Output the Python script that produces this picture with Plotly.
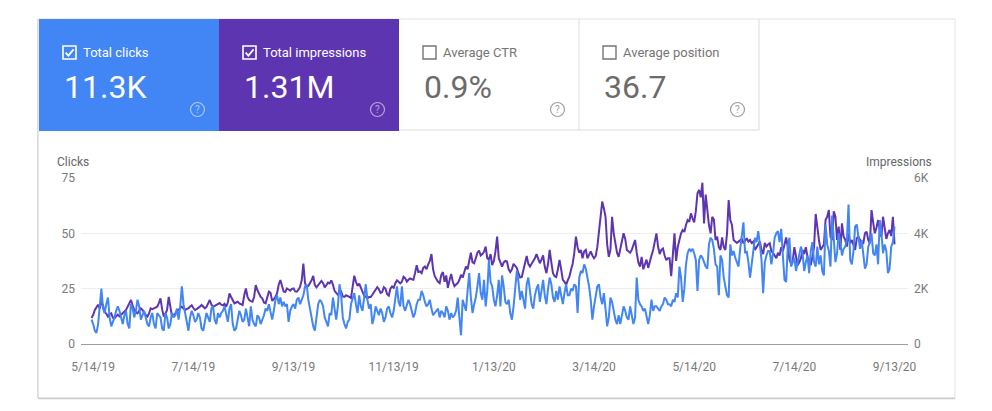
import plotly.graph_objects as go
import pandas as pd

# ---------------- data (daily) ----------------
START_DATE = "2019-05-13"

clicks_p01 = [11, 9, 6, 5, 9, 18, 25, 16, 14, 18, 21, 12, 8, 10, 12, 15, 17]
clicks_p02 = [15, 12, 9, 13, 15, 9, 7, 18, 16, 12, 15, 20, 17, 11, 13, 15, 12, 9, 8, 12,
              14, 9, 7, 14, 13, 12, 7, 6, 14, 12]
clicks_p03 = [7, 9, 14, 12, 13, 16, 11, 17, 26, 18, 14, 10, 6, 12, 15, 13, 10, 11, 14, 12,
              7, 6, 10, 14, 12, 10, 16, 17, 11, 9, 14]
clicks_p04 = [12, 14, 15, 17, 13, 10, 16, 18, 9, 6, 7, 12, 15, 13, 10, 11, 16, 12, 8, 17,
              11, 9, 8, 13, 12, 9, 11, 13, 16, 15, 18]
clicks_p05 = [14, 11, 15, 20, 22, 18, 21, 17, 19, 17, 18, 10, 15, 17, 18, 16, 20, 21, 18, 20,
              22, 26, 27, 20, 16, 13, 8, 6, 12, 18]
clicks_p06 = [20, 19, 17, 12, 10, 8, 14, 13, 21, 15, 11, 17, 27, 22, 12, 9, 7, 10, 11, 18,
              21, 23, 18, 14, 22, 17, 15, 22, 27, 20, 16]
clicks_p07 = [18, 9, 12, 17, 15, 13, 16, 14, 10, 12, 16, 17, 14, 12, 15, 21, 26, 19, 17, 26,
              17, 15, 18, 20, 18, 15, 12, 14, 18, 20]
clicks_p08 = [20, 24, 22, 19, 17, 18, 20, 16, 13, 14, 15, 16, 12, 15, 14, 12, 17, 15, 11, 14,
              12, 13, 15, 21, 12, 4, 20, 17, 15, 24, 32]
clicks_p09 = [21, 14, 18, 21, 26, 32, 23, 20, 29, 17, 24, 38, 28, 26, 20, 17, 22, 29, 17, 31,
              26, 19, 18, 20, 14, 11, 17, 25, 33, 28, 20]
clicks_p10 = [24, 20, 16, 27, 30, 24, 18, 16, 22, 25, 27, 19, 24, 29, 22, 18, 25, 30, 27, 21,
              19, 24, 20, 26, 22, 18, 23, 27, 22]
clicks_p11 = [22, 25, 24, 27, 26, 14, 30, 33, 32, 36, 34, 30, 26, 20, 11, 17, 22, 26, 27, 21,
              18, 23, 16, 8, 12, 21, 19, 14, 11, 9, 13]
clicks_p12 = [9, 14, 17, 15, 12, 11, 17, 13, 9, 12, 30, 20, 18, 17, 15, 16, 13, 9, 13, 20,
              15, 17, 17, 16, 15, 17, 18, 21, 20, 18]
clicks_p13 = [18, 17, 20, 19, 23, 21, 35, 30, 19, 25, 36, 41, 43, 42, 43, 41, 38, 24, 38, 40,
              39, 37, 35, 34, 45, 48, 47, 43, 36, 35, 22]
clicks_p14 = [40, 38, 30, 26, 22, 21, 45, 40, 42, 39, 37, 35, 43, 50, 55, 41, 42, 37, 30, 36,
              42, 48, 46, 51, 45, 38, 23, 37, 40, 42]
clicks_p15 = [42, 36, 41, 48, 50, 51, 46, 52, 40, 29, 28, 44, 48, 35, 37, 39, 33, 37, 40, 44,
              41, 33, 37, 40, 32, 42, 46, 37, 35, 44, 36]
clicks_p16 = [40, 33, 31, 54, 45, 42, 35, 58, 48, 37, 41, 50, 46, 40, 43, 44, 47, 63, 38, 36,
              42, 53, 54, 47, 43, 47, 40, 34, 36, 44, 46]
clicks_p17 = [50, 41, 40, 45, 36, 56, 50, 41, 45, 42, 32, 34, 44, 46, 53]

impr_p01 = [940, 1050, 1230, 1350, 1420, 1280, 1530, 1400, 1150, 1100, 990, 1080, 1110, 950,
            930, 1000, 1060]
impr_p02 = [1000, 1060, 1110, 1180, 1230, 1350, 1470, 1590, 1400, 1230, 1150, 1110, 1200, 1290,
            1230, 1110, 1050, 990, 1100, 1290, 1260, 1290, 1320, 1350, 1480, 1650, 1250, 990,
            1100, 1230]
impr_p03 = [1700, 1250, 1000, 1050, 1100, 1200, 1230, 1300, 1350, 1280, 1230, 1270, 1290, 1350,
            1400, 1300, 1230, 1260, 1290, 1350, 1410, 1360, 1290, 1340, 1450, 1590, 1420, 1350,
            1380, 1410, 1450]
impr_p04 = [1480, 1420, 1400, 1450, 1350, 1500, 1830, 1700, 1600, 1470, 1500, 1530, 1470, 1430,
            1410, 1760, 2010, 1700, 1590, 1550, 1530, 1700, 2130, 1950, 1830, 1700, 1650, 1500,
            1470, 1700, 1890]
impr_p05 = [1850, 1560, 1620, 1700, 1840, 2150, 2310, 2100, 1890, 1880, 2010, 1970, 1930, 1990,
            2010, 1900, 1890, 1960, 2070, 2300, 2910, 2200, 2070, 2100, 2190, 2300, 2460, 2130,
            2050, 2130]
impr_p06 = [2200, 2280, 2200, 2050, 2130, 2220, 2190, 2300, 2150, 1920, 1850, 1780, 1850, 1900,
            1720, 1700, 1760, 1740, 1700, 1660, 2150, 2470, 2250, 2100, 2180, 2030, 1900, 1750,
            1710, 1650, 1700]
impr_p07 = [1700, 1780, 1880, 1950, 2050, 1980, 1850, 1880, 2050, 2000, 1800, 1750, 2000, 2080,
            2030, 2200, 2300, 2250, 2190, 2250, 2430, 2380, 2250, 2320, 2370, 2340, 2320, 2560,
            2850, 2600]
impr_p08 = [2620, 2560, 2750, 2800, 2700, 2880, 3000, 3250, 2700, 2450, 2330, 2250, 2200, 2500,
            2600, 2250, 2480, 2030, 2300, 2530, 2250, 2090, 2150, 2200, 2320, 2500, 2400, 2620,
            2800, 2700, 2980]
impr_p09 = [3300, 2950, 2920, 3100, 3300, 3380, 3200, 3250, 3330, 3520, 3100, 3050, 3250, 2850,
            3000, 3350, 3880, 3100, 2920, 2800, 2950, 3000, 2980, 2700, 2600, 2700, 2900, 2800,
            2750, 2550, 2400]
impr_p10 = [2420, 2700, 2950, 3180, 2900, 2800, 2900, 2980, 3100, 3250, 3050, 2920, 3050, 3200,
            2800, 2560, 2900, 3400, 2950, 2560, 2450, 2420, 2700, 3040, 2700, 2320, 2250, 2140,
            2300]
impr_p11 = [2430, 2680, 2900, 3300, 3880, 3500, 3300, 3400, 3100, 3350, 3400, 3100, 3250, 3350,
            3200, 3100, 3180, 3500, 4050, 4700, 5150, 4900, 4600, 3600, 3150, 3400, 4600, 4000,
            3650, 3300, 3150]
impr_p12 = [3400, 3700, 4000, 3800, 3400, 3350, 3300, 3400, 3550, 3760, 3300, 2950, 2800, 3150,
            2700, 2900, 3050, 2750, 3040, 3200, 3400, 3650, 4000, 3520, 3250, 3400, 3450, 3200,
            3030, 3100]
impr_p13 = [3100, 2450, 3300, 4000, 3000, 3500, 3760, 4000, 4120, 4050, 4300, 4480, 4420, 4720,
            4540, 4400, 4800, 5450, 5570, 5300, 5830, 4360, 5400, 4850, 4300, 4000, 4600, 4500,
            3760, 3880, 3500]
impr_p14 = [3400, 3850, 3500, 3400, 4000, 5200, 4480, 4300, 3760, 3700, 3650, 3700, 3760, 3800,
            3640, 3750, 3820, 3700, 3760, 3650, 3700, 3400, 3520, 3600, 3700, 3400, 3250, 3650,
            3520, 3600]
impr_p15 = [3640, 3350, 3300, 3200, 3100, 3300, 3200, 3500, 3350, 3600, 3850, 3500, 3050, 2900,
            3000, 3500, 3150, 2850, 2950, 3100, 3400, 3250, 3500, 3150, 3000, 2850, 3150, 3500,
            4700, 4100, 3750]
impr_p16 = [3400, 3500, 3600, 4480, 4600, 4840, 3880, 3760, 4800, 4600, 3760, 4240, 3400, 4360,
            3880, 3760, 3520, 4000, 3640, 3760, 3580, 3400, 3820, 3880, 3760, 3640, 3640, 4000,
            4060, 3760, 3640]
impr_p17 = [4840, 4400, 4000, 4200, 4480, 4120, 3880, 4600, 4200, 3800, 4000, 4120, 3900, 4600,
            3600]

x_tick_dates = ["2019-05-14", "2019-07-14", "2019-09-13", "2019-11-13", "2020-01-13",
                "2020-03-14", "2020-05-14", "2020-07-14", "2020-09-13"]
x_tick_labels = ["5/14/19", "7/14/19", "9/13/19", "11/13/19", "1/13/20",
                 "3/14/20", "5/14/20", "7/14/20", "9/13/20"]
clicks_ticks = [0, 25, 50, 75]
impr_ticks = [0, 2000, 4000, 6000]
impr_tick_labels = ["0", "2K", "4K", "6K"]

cards = [
    # label, value, checked
    ("Total clicks", "11.3K", True),
    ("Total impressions", "1.31M", True),
    ("Average CTR", "0.9%", False),
    ("Average position", "36.7", False),
]

clicks = sum([clicks_p01, clicks_p02, clicks_p03, clicks_p04, clicks_p05, clicks_p06,
              clicks_p07, clicks_p08, clicks_p09, clicks_p10, clicks_p11, clicks_p12,
              clicks_p13, clicks_p14, clicks_p15, clicks_p16, clicks_p17], [])
impressions = sum([impr_p01, impr_p02, impr_p03, impr_p04, impr_p05, impr_p06, impr_p07,
                   impr_p08, impr_p09, impr_p10, impr_p11, impr_p12, impr_p13, impr_p14,
                   impr_p15, impr_p16, impr_p17], [])
dates_c = pd.date_range(START_DATE, periods=len(clicks), freq="D")
dates_i = pd.date_range(START_DATE, periods=len(impressions), freq="D")

# ---------------- layout geometry ----------------
W, H = 992, 411
L, R, T, B = 81, 84, 178, 67
PW, PH = W - L - R, H - T - B


def px(x):
    return (x - L) / PW


def py(y):
    return (H - B - y) / PH


BLUE = "#4285f4"
PURPLE = "#5e35b1"
FONT = "Roboto"

fig = go.Figure()
fig.add_trace(go.Scatter(x=dates_i, y=impressions, mode="lines", yaxis="y",
                         line=dict(color=PURPLE, width=2), hoverinfo="skip",
                         name="Impressions"))
fig.add_trace(go.Scatter(x=dates_c, y=clicks, mode="lines", yaxis="y2",
                         line=dict(color=BLUE, width=2), hoverinfo="skip",
                         name="Clicks"))

shapes = []
annotations = []

# card outline with a soft shadow on the left and bottom
shapes.append(dict(type="rect", xref="paper", yref="paper", x0=px(38), x1=px(955),
                   y0=py(398), y1=py(19), line=dict(color="#e3e3e3", width=1),
                   fillcolor="rgba(0,0,0,0)", layer="below"))
shapes.append(dict(type="line", xref="paper", yref="paper", x0=px(38), x1=px(955),
                   y0=py(398.5), y1=py(398.5), line=dict(color="#c9c9c9", width=1.5)))
shapes.append(dict(type="line", xref="paper", yref="paper", x0=px(37.8), x1=px(37.8),
                   y0=py(398), y1=py(19), line=dict(color="#d6d6d6", width=1.2)))

tab_x = [39, 219, 399, 579]
tab_w = 180
for k, (label, value, checked) in enumerate(cards):
    x0 = tab_x[k]
    if checked:
        fill = BLUE if k == 0 else PURPLE
        shapes.append(dict(type="rect", xref="paper", yref="paper", x0=px(x0), x1=px(x0 + tab_w),
                           y0=py(131), y1=py(19), fillcolor=fill, line=dict(width=0),
                           layer="below"))
        num_col = "#ffffff"
        lab_col = "#ffffff"
        box_col = "#ffffff"
        help_col = "rgba(255,255,255,0.55)"
    else:
        num_col = "#6b6b6b"
        lab_col = "#757575"
        box_col = "#757575"
        help_col = "#9e9e9e"
        shapes.append(dict(type="line", xref="paper", yref="paper", x0=px(x0 + tab_w),
                           x1=px(x0 + tab_w), y0=py(130), y1=py(19),
                           line=dict(color="#dadce0", width=1)))
        shapes.append(dict(type="line", xref="paper", yref="paper", x0=px(x0),
                           x1=px(x0 + tab_w), y0=py(130), y1=py(130),
                           line=dict(color="#dadce0", width=1)))
    bx = x0 + 24
    shapes.append(dict(type="rect", xref="paper", yref="paper", x0=px(bx), x1=px(bx + 13),
                       y0=py(59), y1=py(46), line=dict(color=box_col, width=1.6 if checked else 1.4),
                       fillcolor="rgba(0,0,0,0)"))
    if checked:
        path = (f"M {px(bx + 2.6)},{py(52.6)} L {px(bx + 5.4)},{py(55.6)} "
                f"L {px(bx + 10.6)},{py(49.4)}")
        shapes.append(dict(type="path", xref="paper", yref="paper", path=path,
                           line=dict(color="#ffffff", width=1.8)))
    annotations.append(dict(text=label, x=px(bx + 18), y=py(52.5), xref="paper", yref="paper",
                            xanchor="left", yanchor="middle", showarrow=False,
                            font=dict(family=FONT, size=13, color=lab_col)))
    annotations.append(dict(text=value, x=px(x0 + 23), y=py(87), xref="paper", yref="paper",
                            xanchor="left", yanchor="middle", showarrow=False,
                            font=dict(family=FONT, size=32, color=num_col)))
    cx, cy, r = x0 + 158.5, 109.5, 7
    shapes.append(dict(type="circle", xref="paper", yref="paper", x0=px(cx - r), x1=px(cx + r),
                       y0=py(cy + r), y1=py(cy - r), line=dict(color=help_col, width=1.2)))
    annotations.append(dict(text="?", x=px(cx), y=py(cy), xref="paper", yref="paper",
                            xanchor="center", yanchor="middle", showarrow=False,
                            font=dict(family=FONT, size=10, color=help_col)))

# axis titles
annotations.append(dict(text="Clicks", x=px(54.5), y=py(161.5), xref="paper", yref="paper",
                        xanchor="left", yanchor="middle", showarrow=False,
                        font=dict(family=FONT, size=12, color="#666666")))
annotations.append(dict(text="Impressions", x=px(934), y=py(161.5), xref="paper", yref="paper",
                        xanchor="right", yanchor="middle", showarrow=False,
                        font=dict(family=FONT, size=12, color="#666666")))

tickfont = dict(family=FONT, size=12, color="#7a7a7a")

fig.update_layout(
    width=W, height=H,
    margin=dict(l=L, r=R, t=T, b=B, pad=0),
    paper_bgcolor="#ffffff", plot_bgcolor="#ffffff",
    showlegend=False,
    shapes=shapes, annotations=annotations,
    xaxis=dict(type="date", range=["2019-05-06 14:00", "2020-09-21 05:00"],
               tickvals=x_tick_dates, ticktext=x_tick_labels, tickfont=tickfont,
               showgrid=False, zeroline=False, showline=True, linecolor="#9e9e9e",
               linewidth=1, ticks="", ticklabelstandoff=12, fixedrange=True),
    yaxis=dict(side="right", range=[0, 6000], tickvals=impr_ticks, ticktext=impr_tick_labels,
               tickfont=tickfont, showgrid=True, gridcolor="#eeeeee", gridwidth=1,
               zeroline=False, showline=False, ticks="", ticklabelstandoff=5,
               fixedrange=True),
    yaxis2=dict(side="left", overlaying="y", range=[0, 75], tickvals=clicks_ticks,
                tickfont=tickfont, showgrid=False, zeroline=False, showline=False,
                ticks="", ticklabelstandoff=5, fixedrange=True),
)

fig.write_html("out.html", config={"displayModeBar": False})
